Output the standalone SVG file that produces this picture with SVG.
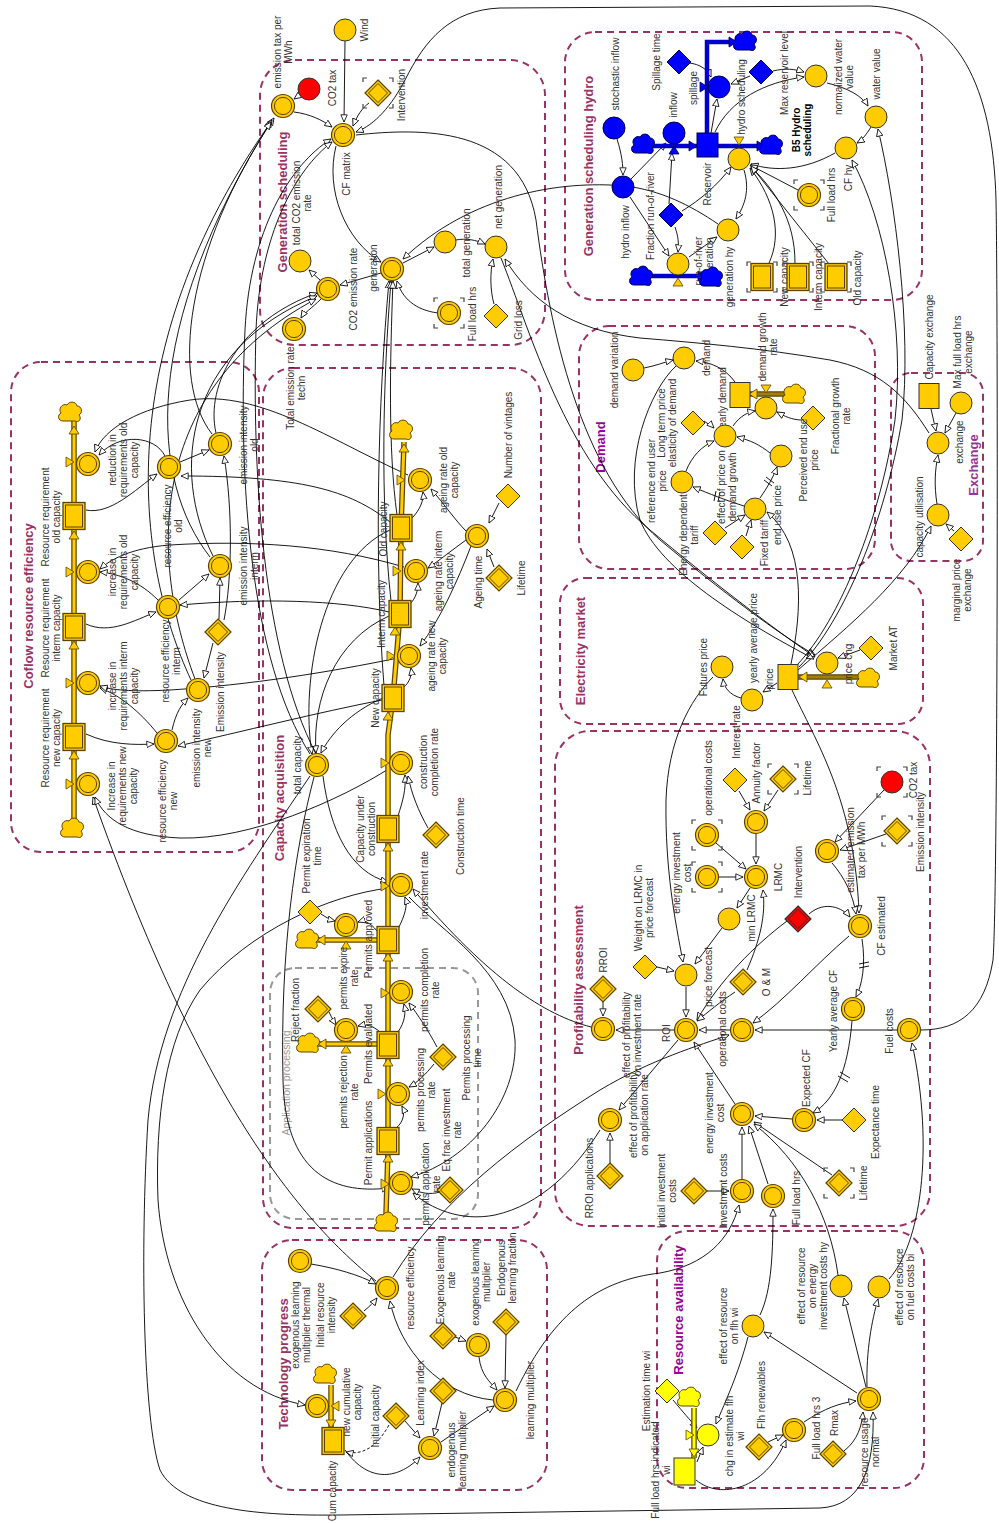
<svg xmlns="http://www.w3.org/2000/svg" width="999" height="1524" viewBox="0 0 999 1524">
<style>
.t{font-family:"Liberation Sans",Arial,sans-serif;font-size:10px;fill:#333;text-anchor:middle}
.tt{font-family:"Liberation Sans",Arial,sans-serif;font-size:13px;font-weight:bold;fill:#993366;text-anchor:middle}
.tp{fill:#990099}
.tb{font-family:"Liberation Sans",Arial,sans-serif;font-size:10px;font-weight:bold;fill:#000;text-anchor:middle}
.box{fill:none;stroke:#993366;stroke-width:2;stroke-dasharray:7 5}
.gbox{fill:none;stroke:#999;stroke-width:2;stroke-dasharray:7 5}
.lk{fill:none;stroke:#000;stroke-width:0.9;marker-end:url(#a)}
.dl{fill:none;stroke:#000;stroke-width:0.9}
.po{fill:none;stroke:#5c4400;stroke-width:5.5}
.pi{fill:none;stroke:#FFCC00;stroke-width:3}
.pb{fill:none;stroke:#0000CC;stroke-width:4.5}
.piy{fill:none;stroke:#FFFF00;stroke-width:3}
</style>
<defs>
<marker id="a" viewBox="0 0 10 10" refX="9.5" refY="5" markerWidth="8" markerHeight="8" markerUnits="userSpaceOnUse" orient="auto"><path d="M0.5,1 L9.5,5 L0.5,9 Z" fill="#fff" stroke="#000" stroke-width="1"/></marker>
<g id="c"><circle r="11" fill="#FFCC00" stroke="#333" stroke-width="1"/></g>
<g id="cc"><circle r="11.5" fill="#FFCC00" stroke="#5c4400" stroke-width="1.2"/><circle r="8.6" fill="none" stroke="#5c4400" stroke-width="1"/></g>
<g id="d"><path d="M0,-12L12,0L0,12L-12,0Z" fill="#FFCC00" stroke="#333"/></g>
<g id="dd"><path d="M0,-13L13,0L0,13L-13,0Z" fill="#FFCC00" stroke="#5c4400" stroke-width="1.2"/><path d="M0,-9.5L9.5,0L0,9.5L-9.5,0Z" fill="none" stroke="#5c4400"/></g>
<g id="s"><rect x="-11" y="-13.5" width="22" height="27" fill="#FFCC00" stroke="#5c4400" stroke-width="1.3"/><rect x="-8.5" y="-11" width="17" height="22" fill="none" stroke="#5c4400"/></g>
<g id="sp"><rect x="-10" y="-12.5" width="20" height="25" fill="#FFCC00" stroke="#333"/></g>
<g id="br"><path d="M-11,-15H-15V-11M11,-15H15V-11M15,11V15H11M-11,15H-15V11" fill="none" stroke="#444" stroke-width="1.2"/></g>
<g id="cl"><path d="M-7,8 C-12,8 -13,2 -9,0 C-12,-4 -8,-10 -3,-8 C-1,-12 6,-12 7,-7 C12,-7 13,0 9,2 C12,6 9,10 5,8 Z" fill="#FFCC00" stroke="#5c4400"/></g>
<g id="bcl"><path d="M-7,8 C-12,8 -13,2 -9,0 C-12,-4 -8,-10 -3,-8 C-1,-12 6,-12 7,-7 C12,-7 13,0 9,2 C12,6 9,10 5,8 Z" fill="#0000FF" stroke="#000044"/></g>
<g id="ycl"><path d="M-7,8 C-12,8 -13,2 -9,0 C-12,-4 -8,-10 -3,-8 C-1,-12 6,-12 7,-7 C12,-7 13,0 9,2 C12,6 9,10 5,8 Z" fill="#FFFF00" stroke="#5c4400"/></g>
<g id="bc"><circle r="11" fill="#0000FF" stroke="#000044"/></g>
<g id="bd"><path d="M0,-12L12,0L0,12L-12,0Z" fill="#0000FF" stroke="#000044"/></g>
<g id="tu"><path d="M-5,4L5,4L0,-4Z" fill="#FFCC00" stroke="#5c4400" stroke-width="0.8"/></g>
<g id="td"><path d="M-5,-4L5,-4L0,4Z" fill="#FFCC00" stroke="#5c4400" stroke-width="0.8"/></g>
<g id="tr"><path d="M-4,-5L-4,5L4,0Z" fill="#FFCC00" stroke="#5c4400" stroke-width="0.8"/></g>
<g id="tl"><path d="M4,-5L4,5L-4,0Z" fill="#FFCC00" stroke="#5c4400" stroke-width="0.8"/></g>
<g id="btu"><path d="M-5,4L5,4L0,-4Z" fill="#0000FF" stroke="#000044" stroke-width="0.8"/></g>
<g id="btr"><path d="M-4,-5L-4,5L4,0Z" fill="#0000FF" stroke="#000044" stroke-width="0.8"/></g>
</defs>

<g id="sections">
<rect class="box" x="260" y="60" width="285" height="285" rx="35"/>
<rect class="box" x="565" y="32" width="357" height="268" rx="30"/>
<rect class="box" x="11" y="362" width="248" height="490" rx="30"/>
<rect class="box" x="263" y="368" width="278" height="860" rx="30"/>
<rect class="gbox" x="270" y="968" width="208" height="251" rx="25"/>
<rect class="box" x="262" y="1240" width="285" height="250" rx="30"/>
<rect class="box" x="579" y="326" width="296" height="243" rx="30"/>
<rect class="box" x="891" y="373" width="92" height="188" rx="20"/>
<rect class="box" x="560" y="578" width="363" height="146" rx="25"/>
<rect class="box" x="555" y="731" width="375" height="495" rx="35"/>
<rect class="box" x="657" y="1231" width="267" height="257" rx="30"/>
<text class="tt" transform="translate(286.5,202) rotate(-90)">Generation scheduling</text>
<text class="tt" transform="translate(592.5,166) rotate(-90)">Generation scheduling hydro</text>
<text class="tt" transform="translate(32.5,606) rotate(-90)">Coflow resource efficiency</text>
<text class="tt" transform="translate(283.5,798) rotate(-90)">Capacity acquisition</text>
<text class="t" style="fill:#999;font-size:10.5px" transform="translate(290,1083) rotate(-90)">Application processing</text>
<text class="tt" transform="translate(287.5,1364) rotate(-90)">Technology progress</text>
<text class="tt tp" transform="translate(604.5,447) rotate(-90)">Demand</text>
<text class="tt" style="fill:#993399" transform="translate(977.5,465) rotate(-90)">Exchange</text>
<text class="tt" transform="translate(584.5,651) rotate(-90)">Electricity market</text>
<text class="tt" transform="translate(582.5,980) rotate(-90)">Profitability assessment</text>
<text class="tt tp" transform="translate(682.5,1310) rotate(-90)">Resource availability</text>
<text class="tb" transform="translate(799.5,130) rotate(-90)"><tspan x="0">B5 Hydro</tspan><tspan x="0" dy="11">scheduling</tspan></text>
</g>

<g id="connectors">
<path class="lk" d="M301,94 L294,99"/>
<path class="lk" d="M294,112 C310,114 322,120 332,127"/>
<path class="lk" d="M345,41 L344,122"/>
<path class="lk" d="M369,103 C362,108 357,116 353,126"/>
<path class="lk" d="M921,1030 C960,1030 985,1010 993,960 C998,900 998,300 996,200 C993,90 960,10 870,6 L500,8 C450,10 425,40 405,80 C392,105 375,125 356,132"/>
<path class="lk" d="M336,146 C325,190 345,240 381,262"/>
<path class="lk" d="M381,273 L340,285"/>
<path class="lk" d="M320,280 L309,270"/>
<path class="lk" d="M321,299 C312,308 304,313 301,318"/>
<path class="lk" d="M403,263 L434,247"/>
<path class="lk" d="M456,240 C466,238 476,240 485,244"/>
<path class="lk" d="M494,304 C490,290 490,272 493,259"/>
<path class="lk" d="M438,313 C415,310 402,298 397,281"/>
<path class="lk" d="M718,224 C690,205 660,190 625,186 C560,180 470,195 403,259"/>
<path class="lk" d="M617,139 C622,155 623,165 623,175"/>
<path class="lk" d="M631,179 L666,143"/>
<path class="lk" d="M630,197 L669,256"/>
<path class="lk" d="M669,204 L672,153"/>
<path class="lk" d="M675,227 C678,236 679,242 678,252"/>
<path class="lk" d="M682,211 C700,200 718,185 731,167"/>
<path class="lk" d="M689,63 C700,64 708,70 711,77"/>
<path class="lk" d="M711,133 L717,99"/>
<path class="lk" d="M750,76 L731,84"/>
<path class="lk" d="M715,132 C730,100 765,82 804,77"/>
<path class="lk" d="M773,71 C785,68 795,69 804,72"/>
<path class="lk" d="M827,83 C848,88 862,96 868,106"/>
<path class="lk" d="M871,127 C866,135 862,140 857,143"/>
<path class="lk" d="M835,153 C805,170 775,172 751,164"/>
<path class="lk" d="M798,190 L750,165"/>
<path class="lk" d="M769,263 C782,235 775,200 750,168"/>
<path class="lk" d="M795,263 C795,220 775,190 751,167"/>
<path class="lk" d="M829,264 L751,166"/>
<path class="lk" d="M744,170 C750,190 745,205 736,219"/>
<path class="lk" d="M689,257 L717,237"/>
<path class="lk" d="M644,368 C655,366 665,362 673,360"/>
<path class="lk" d="M735,382 C725,368 710,362 696,361"/>
<path class="lk" d="M802,420 C792,420 784,416 777,412"/>
<path class="lk" d="M733,426 C740,416 748,412 755,411"/>
<path class="lk" d="M704,421 C708,424 712,426 714,428"/>
<path class="lk" d="M770,453 C760,445 750,440 737,437"/>
<path class="lk" d="M686,471 C692,456 702,446 714,441"/>
<path class="lk" d="M760,498 C767,488 773,478 777,467"/>
<path class="lk" d="M744,506 C725,500 710,494 693,487"/>
<path class="lk" d="M725,528 L745,515"/>
<path class="lk" d="M746,536 L751,520"/>
<path class="lk" d="M791,664 C802,610 806,545 767,512"/>
<path class="lk" d="M931,409 L936,431"/>
<path class="lk" d="M956,413 L945,433"/>
<path class="lk" d="M937,504 C934,485 935,470 938,455"/>
<path class="lk" d="M954,531 L946,524"/>
<path class="lk" d="M798,670 C850,625 905,580 931,526"/>
<path class="lk" d="M929,433 C905,395 880,370 830,360 C760,348 700,343 640,338 C570,330 530,300 505,259"/>
<path class="lk" d="M777,683 L763,692"/>
<path class="lk" d="M741,698 C730,695 724,688 723,679"/>
<path class="lk" d="M860,650 L838,658"/>
<path class="lk" d="M356,135 C420,128 520,125 536,220 C550,330 580,470 660,540 C720,590 780,635 815,655"/>
<path class="lk" d="M501,258 C530,330 565,460 650,530 C710,580 775,630 815,657"/>
<path class="lk" d="M676,366 C650,390 622,460 640,520 C660,570 740,620 814,659"/>
<path class="lk" d="M797,665 C840,620 880,520 895,420 C905,330 885,220 852,160"/>
<path class="lk" d="M799,667 C845,620 885,520 902,420 C912,330 895,200 878,129"/>
<path class="lk" d="M713,677 C690,700 668,740 666,800 C665,870 675,920 683,962"/>
<path class="lk" d="M792,690 C815,740 855,800 859,913"/>
<path class="lk" d="M739,791 L750,810"/>
<path class="lk" d="M778,790 L764,811"/>
<path class="lk" d="M756,834 L756,864"/>
<path class="lk" d="M716,843 L746,869"/>
<path class="lk" d="M719,877 L743,877"/>
<path class="lk" d="M750,888 L737,908"/>
<path class="lk" d="M747,970 C760,940 766,915 763,890"/>
<path class="lk" d="M722,928 L695,964"/>
<path class="lk" d="M657,967 L674,971"/>
<path class="lk" d="M686,987 L686,1017"/>
<path class="lk" d="M787,921 C755,945 720,980 697,1020"/>
<path class="lk" d="M809,914 C825,900 843,908 850,917"/>
<path class="lk" d="M884,790 L835,842"/>
<path class="lk" d="M886,834 L840,850"/>
<path class="lk" d="M832,863 C845,878 853,895 856,914"/>
<path class="lk" d="M862,939 C866,965 862,985 856,997"/>
<path class="lk" d="M852,1021 C848,1070 835,1100 813,1113"/>
<path class="lk" d="M842,1120 L817,1120"/>
<path class="lk" d="M792,1119 L755,1116"/>
<path class="lk" d="M849,936 C815,965 785,1000 753,1023"/>
<path class="lk" d="M897,1030 L755,1030"/>
<path class="lk" d="M730,1030 L699,1030"/>
<path class="lk" d="M735,992 C720,1002 708,1012 697,1021"/>
<path class="lk" d="M735,1104 L694,1042"/>
<path class="lk" d="M674,1030 L616,1030"/>
<path class="lk" d="M603,1001 L603,1016"/>
<path class="lk" d="M591,1027 C545,1015 490,980 413,889"/>
<path class="lk" d="M678,1040 L619,1110"/>
<path class="lk" d="M610,1164 L610,1133"/>
<path class="lk" d="M600,1130 C575,1170 540,1205 495,1215 C460,1222 430,1208 413,1193"/>
<path class="lk" d="M742,1179 L742,1127"/>
<path class="lk" d="M706,1191 L729,1191"/>
<path class="lk" d="M768,1184 L749,1126"/>
<path class="lk" d="M832,1175 L754,1122"/>
<path class="lk" d="M838,1275 C830,1215 800,1160 754,1124"/>
<path class="lk" d="M889,1279 C920,1245 935,1150 912,1043"/>
<path class="lk" d="M516,1391 C555,1310 600,1280 660,1273 C705,1265 730,1240 739,1205"/>
<path class="lk" d="M760,1315 C772,1290 773,1250 773,1209"/>
<path class="lk" d="M393,1277 C440,1200 520,1140 600,1090 C650,1060 700,1045 729,1035"/>
<path class="lk" d="M857,1393 L764,1332"/>
<path class="lk" d="M866,1387 L844,1298"/>
<path class="lk" d="M867,1387 C866,1350 872,1320 878,1299"/>
<path class="lk" d="M804,1422 C825,1408 840,1403 856,1401"/>
<path class="lk" d="M844,1451 C858,1440 862,1425 863,1412"/>
<path class="lk" d="M768,1442 L783,1435"/>
<path class="lk" d="M748,1337 C738,1375 726,1400 716,1424"/>
<path class="lk" d="M697,1462 L703,1447"/>
<path class="lk" d="M696,1480 C720,1500 765,1490 786,1440"/>
<path class="lk" d="M673,1400 C683,1412 690,1420 697,1428"/>
<path class="lk" d="M310,776 C240,880 160,990 148,1120 C140,1250 143,1420 160,1470 C180,1510 260,1516 340,1515 L820,1508 C860,1506 875,1470 873,1412"/>
<path class="lk" d="M364,1311 C370,1306 374,1302 377,1298"/>
<path class="lk" d="M493,1400 C440,1395 400,1350 390,1301"/>
<path class="lk" d="M455,1337 L466,1341"/>
<path class="lk" d="M479,1357 C481,1375 490,1382 497,1390"/>
<path class="lk" d="M506,1334 L505,1388"/>
<path class="lk" d="M441,1442 L494,1406"/>
<path class="lk" d="M442,1403 L434,1436"/>
<path class="lk" d="M405,1421 L420,1438"/>
<path class="lk" style="stroke-dasharray:3 2" d="M389,1425 C375,1450 360,1455 346,1452"/>
<path class="lk" d="M345,1450 C370,1485 400,1478 420,1457"/>
<path class="lk" d="M389,888 C330,895 250,930 200,990 C165,1040 155,1120 158,1200 C165,1300 220,1390 305,1405"/>
<path class="lk" d="M311,1264 C335,1268 360,1275 376,1284"/>
<path class="lk" d="M376,1281 C300,1220 200,1100 93,797"/>
<path class="lk" d="M466,531 C455,520 445,505 431,489"/>
<path class="lk" d="M466,540 C452,550 440,560 428,568"/>
<path class="lk" d="M471,546 C458,580 440,620 420,646"/>
<path class="lk" d="M499,503 L489,523"/>
<path class="lk" d="M494,567 L487,549"/>
<path class="lk" d="M412,518 C420,510 424,500 423,492"/>
<path class="lk" d="M410,604 C416,598 418,590 418,583"/>
<path class="lk" d="M403,688 C410,682 412,675 411,668"/>
<path class="lk" d="M398,816 C403,800 406,790 405,775"/>
<path class="lk" d="M428,828 C418,810 412,795 408,776"/>
<path class="lk" d="M398,929 C405,915 408,905 405,897"/>
<path class="lk" d="M321,914 C327,918 331,920 335,921"/>
<path class="lk" d="M377,931 C370,922 364,920 358,922"/>
<path class="lk" d="M329,1012 C332,1018 334,1022 336,1025"/>
<path class="lk" d="M380,1032 C372,1025 366,1024 358,1026"/>
<path class="lk" d="M398,1032 C405,1022 406,1012 404,1004"/>
<path class="lk" d="M437,1047 C428,1030 418,1015 409,1003"/>
<path class="lk" d="M434,1064 C425,1075 418,1082 409,1087"/>
<path class="lk" d="M396,1128 C404,1122 405,1112 402,1106"/>
<path class="lk" d="M440,1192 C430,1195 420,1193 412,1189"/>
<path class="lk" d="M409,897 C440,930 510,970 515,1040 C518,1100 470,1160 411,1177"/>
<path class="lk" d="M323,776 C330,830 350,872 388,882"/>
<path class="lk" d="M314,777 C295,850 280,950 283,1080 C285,1170 330,1195 389,1188"/>
<path class="lk" d="M383,698 C350,712 330,735 321,753"/>
<path class="lk" d="M389,616 C335,640 312,700 316,753"/>
<path class="lk" d="M390,530 C322,560 300,680 312,754"/>
<path class="lk" d="M384,686 C374,560 378,400 389,281"/>
<path class="lk" d="M391,601 C380,500 383,380 391,281"/>
<path class="lk" d="M397,515 C388,450 390,360 393,281"/>
<path class="lk" d="M86,510 C110,515 135,490 157,474"/>
<path class="lk" d="M86,624 C110,635 135,620 156,612"/>
<path class="lk" d="M86,734 C110,745 135,745 154,744"/>
<path class="lk" d="M180,462 L209,450"/>
<path class="lk" d="M179,600 L209,574"/>
<path class="lk" d="M172,730 C176,712 182,704 188,698"/>
<path class="lk" d="M224,620 C232,580 233,510 224,456"/>
<path class="lk" d="M219,619 L220,578"/>
<path class="lk" d="M213,643 L204,678"/>
<path class="lk" d="M165,456 C155,436 120,432 99,455"/>
<path class="lk" d="M158,600 C140,582 120,574 100,572"/>
<path class="lk" d="M157,733 C140,712 120,695 100,688"/>
<path class="lk" d="M390,522 C350,490 300,476 181,476"/>
<path class="lk" d="M389,612 C340,600 260,598 180,605"/>
<path class="lk" d="M382,700 C320,712 240,732 178,746"/>
<path class="lk" d="M408,475 C330,440 260,390 190,400 C140,408 104,428 95,452"/>
<path class="lk" d="M404,567 C330,545 250,540 170,545 C130,548 110,560 100,569"/>
<path class="lk" d="M398,658 C330,672 250,685 170,690 C130,692 112,690 100,686"/>
<path class="lk" d="M390,768 C340,800 250,840 180,838 C130,836 105,820 95,797"/>
<path class="lk" d="M212,434 C170,380 185,250 274,118"/>
<path class="lk" d="M216,433 C205,385 240,320 317,293"/>
<path class="lk" d="M210,557 C150,480 140,330 272,120"/>
<path class="lk" d="M213,556 C170,470 185,350 317,296"/>
<path class="lk" d="M191,680 C135,560 110,350 271,122"/>
<path class="lk" d="M195,679 C150,560 145,390 316,299"/>
<path class="lk" d="M310,754 C250,660 238,480 245,330 C250,230 290,165 331,139"/>
<path class="lk" d="M316,754 C262,650 252,470 256,330 C260,235 295,170 332,142"/>
<path class="dl" d="M859,964 L869,962 M859,968 L869,966 M840,1072 L850,1078 M838,1076 L848,1082 M764,480 L772,486 M766,477 L774,483 M716,491 L714,501 M720,492 L718,502"/>
</g>

<g id="pipes">
<path class="po" d="M74,822 L74,420"/><path class="pi" d="M74,822 L74,420"/>
<path class="po" d="M386,1214 L388,1150 L388,735 L393,698 L400,614 L401,528 L404,442"/><path class="pi" d="M386,1214 L388,1150 L388,735 L393,698 L400,614 L401,528 L404,442"/>
<path class="po" d="M377,940 L316,940"/><path class="pi" d="M377,940 L316,940"/>
<path class="po" d="M377,1044 L318,1044"/><path class="pi" d="M377,1044 L318,1044"/>
<path class="po" d="M331,1385 L331,1428"/><path class="pi" d="M331,1385 L331,1428"/>
<path class="po" d="M694,1408 L694,1458"/><path class="piy" d="M694,1408 L694,1458"/>
<path class="po" d="M749,394 L786,394"/><path class="pi" d="M749,394 L786,394" style="stroke:#a08000"/>
<path class="po" d="M798,677 L860,677"/><path class="pi" d="M798,677 L860,677" style="stroke:#a08000"/>
<path class="pb" d="M651,146 L697,146"/>
<path class="pb" d="M707,133 L707,42 L735,42"/>
<path class="pb" d="M718,146 L762,146"/>
<path class="pb" d="M650,276 L703,276"/>
<use href="#tu" x="74" y="430"/><use href="#tu" x="74" y="535"/><use href="#tu" x="74" y="645"/><use href="#tu" x="74" y="755"/>
<use href="#tu" x="404" y="448"/><use href="#tu" x="401" y="546"/><use href="#tu" x="395" y="631"/><use href="#tu" x="388" y="716"/><use href="#tu" x="388" y="847"/><use href="#tu" x="388" y="957"/><use href="#tu" x="388" y="1062"/><use href="#tu" x="388" y="1158"/>
<use href="#tl" x="321" y="940"/><use href="#tl" x="322" y="1044"/>
<use href="#td" x="331" y="1424"/>
<use href="#tl" x="753" y="394"/><use href="#tl" x="803" y="677"/>
<path d="M-5,-4L5,-4L0,4Z" transform="translate(694,1453)" fill="#FFFF00" stroke="#5c4400" stroke-width="0.8"/>
<use href="#btr" x="693" y="146"/><use href="#btr" x="733" y="42"/><use href="#btr" x="761" y="146"/><use href="#btr" x="702" y="276"/>
</g>

<g id="n-emtax"><use href="#cc" x="283" y="106"/><text class="t" transform="translate(280.5,52) rotate(-90)"><tspan x="0">emission tax per</tspan><tspan x="0" dy="11">MWh</tspan></text></g>
<g id="n-co2tax"><circle cx="309" cy="89" r="11" fill="#FF0000" stroke="#333"/><text class="t" transform="translate(335.5,88) rotate(-90)">CO2 tax</text></g>
<g id="n-wind"><use href="#c" x="345" y="30"/><text class="t" transform="translate(367.5,30) rotate(-90)">Wind</text></g>
<g id="n-interv1"><use href="#dd" x="378" y="93"/><use href="#br" x="378" y="93"/><text class="t" transform="translate(404.5,95) rotate(-90)">Intervention</text></g>
<g id="n-cfm"><use href="#cc" x="343" y="135"/><text class="t" transform="translate(349.5,174) rotate(-90)">CF matrix</text></g>
<g id="n-totco2"><use href="#c" x="300" y="261"/><text class="t" transform="translate(299.5,203) rotate(-90)"><tspan x="0">total CO2 emission</tspan><tspan x="0" dy="11">rate</tspan></text></g>
<g id="n-co2rate"><use href="#cc" x="328" y="289"/><text class="t" transform="translate(356.5,289) rotate(-90)">CO2 emission rate</text></g>
<g id="n-totemis"><use href="#cc" x="294" y="329"/><text class="t" transform="translate(293.5,388) rotate(-90)"><tspan x="0">Total emission rate</tspan><tspan x="0" dy="11">techn</tspan></text></g>
<g id="n-gen"><use href="#cc" x="392" y="269"/><text class="t" transform="translate(376.5,268) rotate(-90)">generation</text></g>
<g id="n-totgen"><use href="#c" x="445" y="242"/><text class="t" transform="translate(469.5,243) rotate(-90)">total generation</text></g>
<g id="n-netgen"><use href="#c" x="496" y="247"/><text class="t" transform="translate(501.5,197) rotate(-90)">net generation</text></g>
<g id="n-flh1"><use href="#cc" x="449" y="313"/><use href="#br" x="449" y="313"/><text class="t" transform="translate(475.5,314) rotate(-90)">Full load hrs</text></g>
<g id="n-gridloss"><use href="#d" x="496" y="316"/><text class="t" transform="translate(521.5,320) rotate(-90)">Grid loss</text></g>

<g id="n-stoch"><use href="#bc" x="614" y="128"/><text class="t" transform="translate(618.5,74) rotate(-90)">stochastic inflow</text></g>
<g id="n-spilltime"><use href="#bd" x="679" y="62"/><text class="t" transform="translate(659.5,62) rotate(-90)">Spillage time</text></g>
<g id="n-spill"><use href="#bc" x="719" y="87"/><path d="M-4,-5L-4,5L4,0Z" transform="translate(704,87)" fill="#0000FF" stroke="#000044" stroke-width="0.8"/><text class="t" transform="translate(696.5,88) rotate(-90)">spillage</text></g>
<g id="n-inflow"><use href="#bc" x="674" y="133"/><use href="#btu" x="674" y="150"/><text class="t" transform="translate(676.5,105) rotate(-90)">inflow</text></g>
<g id="n-reservoir"><rect x="697" y="133" width="21" height="24" fill="#0000FF" stroke="#000044"/><text class="t" transform="translate(710.5,184) rotate(-90)">Reservoir</text></g>
<g id="n-hsched"><use href="#td" x="739" y="141"/><use href="#c" x="739" y="159"/><text class="t" transform="translate(744.5,97) rotate(-90)">hydro scheduling</text></g>
<g id="n-maxres"><use href="#bd" x="761" y="72"/><text class="t" transform="translate(787.5,73) rotate(-90)">Max reservoir level</text></g>
<g id="n-nwv"><use href="#c" x="816" y="76"/><text class="t" transform="translate(841.5,77) rotate(-90)"><tspan x="0">normalized water</tspan><tspan x="0" dy="11">value</tspan></text></g>
<g id="n-wv"><use href="#c" x="876" y="117"/><text class="t" transform="translate(879.5,74) rotate(-90)">water value</text></g>
<g id="n-cfhy"><use href="#c" x="846" y="148"/><text class="t" transform="translate(851.5,178) rotate(-90)">CF hy</text></g>
<g id="n-flh2"><use href="#cc" x="809" y="195"/><use href="#br" x="809" y="195"/><text class="t" transform="translate(834.5,195) rotate(-90)">Full load hrs</text></g>
<g id="n-newcap2"><use href="#s" x="762" y="277"/><use href="#br" x="762" y="277"/><text class="t" transform="translate(787.5,277) rotate(-90)">New  capacity</text></g>
<g id="n-intcap2"><use href="#s" x="798" y="277"/><use href="#br" x="798" y="277"/><text class="t" transform="translate(821.5,277) rotate(-90)">Interm capacity</text></g>
<g id="n-oldcap2"><use href="#s" x="836" y="277"/><use href="#br" x="836" y="277"/><text class="t" transform="translate(860.5,278) rotate(-90)">Old capacity</text></g>
<g id="n-genhy"><use href="#c" x="728" y="230"/><text class="t" transform="translate(732.5,277) rotate(-90)">generation hy</text></g>
<g id="n-ror"><use href="#c" x="678" y="264"/><use href="#tu" x="678" y="282"/><text class="t" transform="translate(701.5,261) rotate(-90)"><tspan x="0">run-of-river</tspan><tspan x="0" dy="11">generation</tspan></text></g>
<g id="n-frac"><use href="#bd" x="671" y="215"/><text class="t" transform="translate(653.5,216) rotate(-90)">Fraction run-of-river</text></g>
<g id="n-hinflow"><use href="#bc" x="623" y="187"/><text class="t" transform="translate(628.5,232) rotate(-90)">hydro inflow</text></g>
<g id="n-hclouds"><use href="#bcl" x="643" y="145"/><use href="#bcl" x="745" y="42"/><use href="#bcl" x="771" y="146"/><use href="#bcl" x="641" y="277"/><use href="#bcl" x="711" y="278"/></g>

<g id="n-demvar"><use href="#c" x="633" y="370"/><text class="t" transform="translate(617.5,370) rotate(-90)">demand variation</text></g>
<g id="n-demand"><use href="#c" x="684" y="358"/><text class="t" transform="translate(709.5,358) rotate(-90)">demand</text></g>
<g id="n-ydem"><use href="#sp" x="740" y="395"/><text class="t" transform="translate(725.5,400) rotate(-90)">yearly demand</text></g>
<g id="n-dgr"><use href="#td" x="766" y="389"/><use href="#c" x="766" y="408"/><use href="#cl" x="794" y="395"/><text class="t" transform="translate(765.5,347) rotate(-90)"><tspan x="0">demand growth</tspan><tspan x="0" dy="11">rate</tspan></text></g>
<g id="n-fgr"><use href="#d" x="813" y="418"/><text class="t" transform="translate(838.5,416) rotate(-90)"><tspan x="0">Fractional growth</tspan><tspan x="0" dy="11">rate</tspan></text></g>
<g id="n-ltpe"><use href="#d" x="693" y="423"/><text class="t" transform="translate(664.5,423) rotate(-90)"><tspan x="0">Long term price</tspan><tspan x="0" dy="11">elasticity of demand</tspan></text></g>
<g id="n-epdg"><use href="#c" x="725" y="436"/><text class="t" transform="translate(724.5,487) rotate(-90)"><tspan x="0">effect of price on</tspan><tspan x="0" dy="11">demand growth</tspan></text></g>
<g id="n-peup"><use href="#c" x="781" y="456"/><text class="t" transform="translate(806.5,460) rotate(-90)"><tspan x="0">Perceived end use</tspan><tspan x="0" dy="11">price</tspan></text></g>
<g id="n-reup"><use href="#c" x="682" y="482"/><text class="t" transform="translate(654.5,481) rotate(-90)"><tspan x="0">reference end user</tspan><tspan x="0" dy="11">price</tspan></text></g>
<g id="n-eup"><use href="#c" x="755" y="509"/><text class="t" transform="translate(780.5,515) rotate(-90)">end use price</text></g>
<g id="n-edt"><use href="#d" x="715" y="533"/><text class="t" transform="translate(686.5,535) rotate(-90)"><tspan x="0">Energy dependent</tspan><tspan x="0" dy="11">tariff</tspan></text></g>
<g id="n-ft"><use href="#d" x="742" y="547"/><text class="t" transform="translate(767.5,543) rotate(-90)">Fixed tariff</text></g>

<g id="n-capex"><use href="#sp" x="929" y="396"/><text class="t" transform="translate(932.5,337) rotate(-90)">Capacity exchange</text></g>
<g id="n-mflhx"><use href="#c" x="961" y="403"/><text class="t" transform="translate(960.5,352) rotate(-90)"><tspan x="0">Max full load hrs</tspan><tspan x="0" dy="11">exchange</tspan></text></g>
<g id="n-exch"><use href="#c" x="938" y="443"/><text class="t" transform="translate(962.5,442) rotate(-90)">exchange</text></g>
<g id="n-cu"><use href="#c" x="938" y="515"/><text class="t" transform="translate(922.5,517) rotate(-90)">capacity utilisation</text></g>
<g id="n-mpx"><use href="#d" x="961" y="539"/><text class="t" transform="translate(959.5,590) rotate(-90)"><tspan x="0">marginal price</tspan><tspan x="0" dy="11">exchange</tspan></text></g>

<g id="n-fut"><use href="#c" x="722" y="667"/><text class="t" transform="translate(706.5,667) rotate(-90)">Futures price</text></g>
<g id="n-yap"><use href="#c" x="752" y="700"/><text class="t" transform="translate(756.5,638) rotate(-90)">yearly average price</text></g>
<g id="n-price"><use href="#sp" x="788" y="677"/><text class="t" transform="translate(772.5,679) rotate(-90)">price</text></g>
<g id="n-pchg"><use href="#c" x="827" y="663"/><use href="#tu" x="827" y="684"/><use href="#cl" x="868" y="679"/><text class="t" transform="translate(851.5,664) rotate(-90)">price chg</text></g>
<g id="n-mat"><use href="#d" x="871" y="648"/><text class="t" transform="translate(896.5,648) rotate(-90)">Market AT</text></g>

<g id="n-ir"><use href="#d" x="735" y="780"/><text class="t" transform="translate(739.5,732) rotate(-90)">Interest rate</text></g>
<g id="n-af"><use href="#cc" x="756" y="822"/><text class="t" transform="translate(759.5,773) rotate(-90)">Annuity factor</text></g>
<g id="n-lt1"><use href="#dd" x="783" y="779"/><use href="#br" x="783" y="779"/><text class="t" transform="translate(810.5,778) rotate(-90)">Lifetime</text></g>
<g id="n-opc1"><use href="#cc" x="707" y="835"/><use href="#br" x="707" y="835"/><text class="t" transform="translate(711.5,778) rotate(-90)">operational costs</text></g>
<g id="n-eic1"><use href="#cc" x="707" y="877"/><use href="#br" x="707" y="877"/><text class="t" transform="translate(679.5,873) rotate(-90)"><tspan x="0">energy investment</tspan><tspan x="0" dy="11">cost</tspan></text></g>
<g id="n-lrmc"><use href="#cc" x="756" y="877"/><text class="t" transform="translate(781.5,877) rotate(-90)">LRMC</text></g>
<g id="n-minl"><use href="#c" x="729" y="919"/><text class="t" transform="translate(754.5,918) rotate(-90)">min LRMC</text></g>
<g id="n-interv2"><path d="M0,-13L13,0L0,13L-13,0Z" transform="translate(798,919)" fill="#FF0000" stroke="#333" stroke-width="1.2"/><path d="M0,-9.5L9.5,0L0,9.5L-9.5,0Z" transform="translate(798,919)" fill="none" stroke="#333"/><text class="t" transform="translate(801.5,872) rotate(-90)">Intervention</text></g>
<g id="n-cfe"><use href="#cc" x="860" y="926"/><text class="t" transform="translate(884.5,926) rotate(-90)">CF estimated</text></g>
<g id="n-eet"><use href="#cc" x="827" y="851"/><text class="t" transform="translate(853.5,850) rotate(-90)"><tspan x="0">estimated emission</tspan><tspan x="0" dy="11">tax per MWh</tspan></text></g>
<g id="n-co2tax2"><circle cx="892" cy="782" r="11" fill="#FF0000" stroke="#333"/><use href="#br" x="892" y="782"/><text class="t" transform="translate(916.5,780) rotate(-90)">CO2 tax</text></g>
<g id="n-ei2"><use href="#dd" x="897" y="831"/><use href="#br" x="897" y="831"/><text class="t" transform="translate(923.5,832) rotate(-90)">Emission intensity</text></g>
<g id="n-pf"><use href="#c" x="686" y="975"/><text class="t" transform="translate(711.5,977) rotate(-90)">price forecast</text></g>
<g id="n-wl"><use href="#d" x="645" y="967"/><text class="t" transform="translate(641.5,908) rotate(-90)"><tspan x="0">Weight on LRMC in</tspan><tspan x="0" dy="11">price forecast</tspan></text></g>
<g id="n-om"><use href="#dd" x="743" y="982"/><text class="t" transform="translate(769.5,982) rotate(-90)">O &amp; M</text></g>
<g id="n-roi"><use href="#cc" x="686" y="1030"/><text class="t" transform="translate(669.5,1033) rotate(-90)">ROI</text></g>
<g id="n-opc2"><use href="#cc" x="742" y="1030"/><text class="t" transform="translate(725.5,1029) rotate(-90)">operational costs</text></g>
<g id="n-yacf"><use href="#cc" x="853" y="1009"/><text class="t" transform="translate(836.5,1011) rotate(-90)">Yearly average CF</text></g>
<g id="n-fuel"><use href="#cc" x="909" y="1030"/><text class="t" transform="translate(892.5,1031) rotate(-90)">Fuel costs</text></g>
<g id="n-rroi"><use href="#dd" x="603" y="989"/><text class="t" transform="translate(606.5,960) rotate(-90)">RROI</text></g>
<g id="n-epir"><use href="#cc" x="603" y="1029"/><text class="t" transform="translate(629.5,1035) rotate(-90)"><tspan x="0">effect of profitability</tspan><tspan x="0" dy="11">on investment rate</tspan></text></g>
<g id="n-epar"><use href="#cc" x="610" y="1120"/><text class="t" transform="translate(636.5,1115) rotate(-90)"><tspan x="0">effect of profitability</tspan><tspan x="0" dy="11">on application rate</tspan></text></g>
<g id="n-rroia"><use href="#dd" x="610" y="1176"/><text class="t" transform="translate(592.5,1178) rotate(-90)">RROI applications</text></g>
<g id="n-iic"><use href="#dd" x="694" y="1191"/><text class="t" transform="translate(664.5,1191) rotate(-90)"><tspan x="0">Initial investment</tspan><tspan x="0" dy="11">costs</tspan></text></g>
<g id="n-eic2"><use href="#cc" x="742" y="1114"/><text class="t" transform="translate(712.5,1113) rotate(-90)"><tspan x="0">energy investment</tspan><tspan x="0" dy="11">cost</tspan></text></g>
<g id="n-ecf"><use href="#cc" x="804" y="1120"/><text class="t" transform="translate(809.5,1078) rotate(-90)">Expected CF</text></g>
<g id="n-et"><use href="#d" x="854" y="1120"/><text class="t" transform="translate(878.5,1122) rotate(-90)">Expectance time</text></g>
<g id="n-lt2"><use href="#dd" x="839" y="1183"/><use href="#br" x="839" y="1183"/><text class="t" transform="translate(866.5,1183) rotate(-90)">Lifetime</text></g>
<g id="n-ic"><use href="#cc" x="742" y="1191"/><text class="t" transform="translate(726.5,1191) rotate(-90)">Investment costs</text></g>
<g id="n-flh3"><use href="#cc" x="773" y="1196"/><text class="t" transform="translate(799.5,1198) rotate(-90)">Full load hrs</text></g>

<g id="n-erflh"><use href="#c" x="753" y="1326"/><text class="t" transform="translate(726.5,1326) rotate(-90)"><tspan x="0">effect of resource</tspan><tspan x="0" dy="11">on flh wi</tspan></text></g>
<g id="n-ereic"><use href="#c" x="841" y="1286"/><text class="t" transform="translate(804.5,1286) rotate(-90)"><tspan x="0">effect of resource</tspan><tspan x="0" dy="11">on energy</tspan><tspan x="0" dy="11">investment costs hy</tspan></text></g>
<g id="n-erfc"><use href="#c" x="879" y="1287"/><text class="t" transform="translate(902.5,1287) rotate(-90)"><tspan x="0">effect of resource</tspan><tspan x="0" dy="11">on fuel costs bi</tspan></text></g>
<g id="n-run"><use href="#cc" x="869" y="1399"/><text class="t" transform="translate(867.5,1452) rotate(-90)"><tspan x="0">resource usage</tspan><tspan x="0" dy="11">normal</tspan></text></g>
<g id="n-rmax"><use href="#dd" x="833" y="1454"/><text class="t" transform="translate(837.5,1423) rotate(-90)">Rmax</text></g>
<g id="n-flh4"><use href="#cc" x="794" y="1430"/><text class="t" transform="translate(819.5,1428) rotate(-90)">Full load hrs 3</text></g>
<g id="n-flhren"><use href="#dd" x="759" y="1447"/><text class="t" transform="translate(764.5,1395) rotate(-90)">Flh renewables</text></g>
<g id="n-chg"><use href="#ycl" x="689" y="1398"/><path d="M-4,-5L-4,5L4,0Z" transform="translate(690,1435)" fill="#FFFF00" stroke="#5c4400" stroke-width="0.8"/><circle cx="708" cy="1435" r="11" fill="#FFFF00" stroke="#333"/><text class="t" transform="translate(732.5,1436) rotate(-90)"><tspan x="0">chg in estimate flh</tspan><tspan x="0" dy="11">wi</tspan></text></g>
<g id="n-flhind"><rect x="674" y="1458" width="21" height="27" fill="#FFFF00" stroke="#333"/><text class="t" transform="translate(658.5,1470) rotate(-90)"><tspan x="0">Full load hrs indicated</tspan><tspan x="0" dy="11">wi</tspan></text></g>
<g id="n-estt"><path d="M0,-12L12,0L0,12L-12,0Z" transform="translate(667,1391)" fill="#FFFF00" stroke="#333"/><text class="t" transform="translate(649.5,1391) rotate(-90)">Estimation time wi</text></g>

<g id="n-elmt"><use href="#cc" x="300" y="1261"/><text class="t" transform="translate(298.5,1325) rotate(-90)"><tspan x="0">exogenous learning</tspan><tspan x="0" dy="11">multiplier thermal</tspan></text></g>
<g id="n-iri"><use href="#dd" x="353" y="1316"/><text class="t" transform="translate(323.5,1315) rotate(-90)"><tspan x="0">Initial resource</tspan><tspan x="0" dy="11">intensity</tspan></text></g>
<g id="n-re"><use href="#cc" x="387" y="1288"/><text class="t" transform="translate(413.5,1288) rotate(-90)">resource efficiency</text></g>
<g id="n-elr"><use href="#dd" x="443" y="1336"/><text class="t" transform="translate(443.5,1280) rotate(-90)"><tspan x="0">Exogenous learning</tspan><tspan x="0" dy="11">rate</tspan></text></g>
<g id="n-elm"><use href="#cc" x="478" y="1345"/><text class="t" transform="translate(478.5,1282) rotate(-90)"><tspan x="0">exogenous learning</tspan><tspan x="0" dy="11">multiplier</tspan></text></g>
<g id="n-elf"><use href="#dd" x="506" y="1322"/><text class="t" transform="translate(504.5,1268) rotate(-90)"><tspan x="0">Endogenous</tspan><tspan x="0" dy="11">learning fraction</tspan></text></g>
<g id="n-lm"><use href="#cc" x="505" y="1400"/><text class="t" transform="translate(533.5,1400) rotate(-90)">learning multiplier</text></g>
<g id="n-li"><use href="#dd" x="443" y="1391"/><text class="t" transform="translate(423.5,1393) rotate(-90)">Learning index</text></g>
<g id="n-enlm"><use href="#cc" x="430" y="1448"/><text class="t" transform="translate(454.5,1450) rotate(-90)"><tspan x="0">endogenous</tspan><tspan x="0" dy="11">learning multiplier</tspan></text></g>
<g id="n-ic0"><use href="#dd" x="396" y="1416"/><text class="t" transform="translate(378.5,1416) rotate(-90)">Initial capacity</text></g>
<g id="n-ncc"><use href="#cl" x="325" y="1375"/><use href="#tl" x="335" y="1406"/><use href="#cc" x="317" y="1406"/><text class="t" transform="translate(349.5,1402) rotate(-90)"><tspan x="0">new cumulative</tspan><tspan x="0" dy="11">capacity</tspan></text></g>
<g id="n-cum"><use href="#s" x="333" y="1441"/><text class="t" transform="translate(335.5,1491) rotate(-90)">Cum capacity</text></g>

<g id="n-cloudcap"><use href="#cl" x="401" y="431"/><use href="#cl" x="386" y="1223"/><use href="#cl" x="307" y="940"/><use href="#cl" x="308" y="1044"/></g>
<g id="n-arold"><use href="#tr" x="401" y="480"/><use href="#cc" x="420" y="480"/><text class="t" transform="translate(446.5,480) rotate(-90)"><tspan x="0">ageing rate old</tspan><tspan x="0" dy="11">capacity</tspan></text></g>
<g id="n-oldcap"><use href="#s" x="401" y="528"/><text class="t" transform="translate(386.5,529) rotate(-90)">Old capacity</text></g>
<g id="n-arint"><use href="#tr" x="397" y="571"/><use href="#cc" x="416" y="571"/><text class="t" transform="translate(441.5,571) rotate(-90)"><tspan x="0">ageing rate interm</tspan><tspan x="0" dy="11">capacity</tspan></text></g>
<g id="n-intcap"><use href="#s" x="400" y="614"/><text class="t" transform="translate(384.5,614) rotate(-90)">Interm capacity</text></g>
<g id="n-arnew"><use href="#tr" x="391" y="656"/><use href="#cc" x="409" y="656"/><text class="t" transform="translate(434.5,656) rotate(-90)"><tspan x="0">ageing rate new</tspan><tspan x="0" dy="11">capacity</tspan></text></g>
<g id="n-newcap"><use href="#s" x="393" y="698"/><text class="t" transform="translate(378.5,698) rotate(-90)">New capacity</text></g>
<g id="n-at"><use href="#cc" x="477" y="536"/><text class="t" transform="translate(481.5,582) rotate(-90)">Ageing  time</text></g>
<g id="n-nov"><use href="#d" x="508" y="496"/><text class="t" transform="translate(511.5,435) rotate(-90)">Number of vintages</text></g>
<g id="n-lt3"><use href="#dd" x="499" y="578"/><text class="t" transform="translate(524.5,578) rotate(-90)">Lifetime</text></g>
<g id="n-ccr"><use href="#tr" x="385" y="763"/><use href="#cc" x="401" y="763"/><text class="t" transform="translate(426.5,762) rotate(-90)"><tspan x="0">construction</tspan><tspan x="0" dy="11">completion rate</tspan></text></g>
<g id="n-tc"><use href="#cc" x="317" y="765"/><text class="t" transform="translate(300.5,765) rotate(-90)">total capacity</text></g>
<g id="n-cuc"><use href="#s" x="388" y="829"/><text class="t" transform="translate(363.5,829) rotate(-90)"><tspan x="0">Capacity under</tspan><tspan x="0" dy="11">construction</tspan></text></g>
<g id="n-ct"><use href="#dd" x="436" y="835"/><text class="t" transform="translate(463.5,836) rotate(-90)">Construction time</text></g>
<g id="n-ir2"><use href="#tr" x="385" y="886"/><use href="#cc" x="401" y="885"/><text class="t" transform="translate(427.5,885) rotate(-90)">investment rate</text></g>
<g id="n-pet"><use href="#d" x="310" y="912"/><text class="t" transform="translate(309.5,856) rotate(-90)"><tspan x="0">Permit expiration</tspan><tspan x="0" dy="11">time</tspan></text></g>
<g id="n-per"><use href="#cc" x="346" y="925"/><use href="#tu" x="346" y="945"/><text class="t" transform="translate(346.5,978) rotate(-90)"><tspan x="0">permits expire</tspan><tspan x="0" dy="11">rate</tspan></text></g>
<g id="n-pa"><use href="#s" x="388" y="940"/><text class="t" transform="translate(371.5,939) rotate(-90)">Permits approved</text></g>
<g id="n-pcr"><use href="#tr" x="385" y="993"/><use href="#cc" x="401" y="992"/><text class="t" transform="translate(427.5,990) rotate(-90)"><tspan x="0">permits completion</tspan><tspan x="0" dy="11">rate</tspan></text></g>
<g id="n-rf"><use href="#dd" x="318" y="1009"/><text class="t" transform="translate(298.5,1010) rotate(-90)">Reject fraction</text></g>
<g id="n-prr"><use href="#cc" x="346" y="1030"/><use href="#tu" x="346" y="1049"/><text class="t" transform="translate(346.5,1092) rotate(-90)"><tspan x="0">permits rejection</tspan><tspan x="0" dy="11">rate</tspan></text></g>
<g id="n-pe"><use href="#s" x="388" y="1045"/><text class="t" transform="translate(371.5,1044) rotate(-90)">Permits evaluated</text></g>
<g id="n-ppr"><use href="#tr" x="382" y="1094"/><use href="#cc" x="398" y="1094"/><text class="t" transform="translate(423.5,1090) rotate(-90)"><tspan x="0">permits processing</tspan><tspan x="0" dy="11">rate</tspan></text></g>
<g id="n-ppt"><use href="#dd" x="443" y="1057"/><text class="t" transform="translate(469.5,1058) rotate(-90)"><tspan x="0">Permits processing</tspan><tspan x="0" dy="11">time</tspan></text></g>
<g id="n-papp"><use href="#s" x="388" y="1141"/><text class="t" transform="translate(371.5,1143) rotate(-90)">Permit applications</text></g>
<g id="n-efir"><use href="#dd" x="450" y="1190"/><text class="t" transform="translate(449.5,1130) rotate(-90)"><tspan x="0">Eq frac investment</tspan><tspan x="0" dy="11">rate</tspan></text></g>
<g id="n-par"><use href="#tr" x="385" y="1184"/><use href="#cc" x="401" y="1183"/><text class="t" transform="translate(428.5,1184) rotate(-90)"><tspan x="0">permits application</tspan><tspan x="0" dy="11">rate</tspan></text></g>

<g id="n-cloudco"><use href="#cl" x="70" y="413"/><use href="#cl" x="72" y="829"/></g>
<g id="n-rrold"><use href="#tr" x="70" y="462"/><use href="#cc" x="88" y="464"/><text class="t" transform="translate(115.5,460) rotate(-90)"><tspan x="0">reduction in</tspan><tspan x="0" dy="11">requirements old</tspan><tspan x="0" dy="11">capacity</tspan></text></g>
<g id="n-rrocap"><use href="#s" x="74" y="516"/><text class="t" transform="translate(48.5,517) rotate(-90)"><tspan x="0">Resource requirement</tspan><tspan x="0" dy="11">old capacity</tspan></text></g>
<g id="n-irold"><use href="#tr" x="70" y="572"/><use href="#cc" x="88" y="572"/><text class="t" transform="translate(115.5,572) rotate(-90)"><tspan x="0">increase in</tspan><tspan x="0" dy="11">requirements old</tspan><tspan x="0" dy="11">capacity</tspan></text></g>
<g id="n-rricap"><use href="#s" x="74" y="627"/><text class="t" transform="translate(48.5,628) rotate(-90)"><tspan x="0">Resource requirement</tspan><tspan x="0" dy="11">interm capacity</tspan></text></g>
<g id="n-irint"><use href="#tr" x="70" y="683"/><use href="#cc" x="88" y="683"/><text class="t" transform="translate(115.5,686) rotate(-90)"><tspan x="0">increase in</tspan><tspan x="0" dy="11">requirements interm</tspan><tspan x="0" dy="11">capacity</tspan></text></g>
<g id="n-rrncap"><use href="#s" x="74" y="737"/><text class="t" transform="translate(48.5,738) rotate(-90)"><tspan x="0">Resource requirement</tspan><tspan x="0" dy="11">new capacity</tspan></text></g>
<g id="n-irnew"><use href="#tr" x="70" y="784"/><use href="#cc" x="88" y="784"/><text class="t" transform="translate(114.5,786) rotate(-90)"><tspan x="0">Increase in</tspan><tspan x="0" dy="11">requirements new</tspan><tspan x="0" dy="11">capacity</tspan></text></g>
<g id="n-reo"><use href="#cc" x="169" y="467"/><text class="t" transform="translate(170.5,526) rotate(-90)"><tspan x="0">resource efficiency</tspan><tspan x="0" dy="11">old</tspan></text></g>
<g id="n-eio"><use href="#cc" x="220" y="444"/><text class="t" transform="translate(246.5,445) rotate(-90)"><tspan x="0">emission intensity</tspan><tspan x="0" dy="11">old</tspan></text></g>
<g id="n-rei"><use href="#cc" x="168" y="607"/><text class="t" transform="translate(168.5,661) rotate(-90)"><tspan x="0">resource efficiency</tspan><tspan x="0" dy="11">interm</tspan></text></g>
<g id="n-eii"><use href="#cc" x="220" y="566"/><text class="t" transform="translate(246.5,566) rotate(-90)"><tspan x="0">emission intensity</tspan><tspan x="0" dy="11">interm</tspan></text></g>
<g id="n-ei"><use href="#dd" x="218" y="632"/><text class="t" transform="translate(223.5,692) rotate(-90)">Emission intensity</text></g>
<g id="n-ein"><use href="#cc" x="198" y="690"/><text class="t" transform="translate(199.5,748) rotate(-90)"><tspan x="0">emission intensity</tspan><tspan x="0" dy="11">new</tspan></text></g>
<g id="n-ren"><use href="#cc" x="166" y="741"/><text class="t" transform="translate(165.5,801) rotate(-90)"><tspan x="0">resource efficiency</tspan><tspan x="0" dy="11">new</tspan></text></g>
</svg>
